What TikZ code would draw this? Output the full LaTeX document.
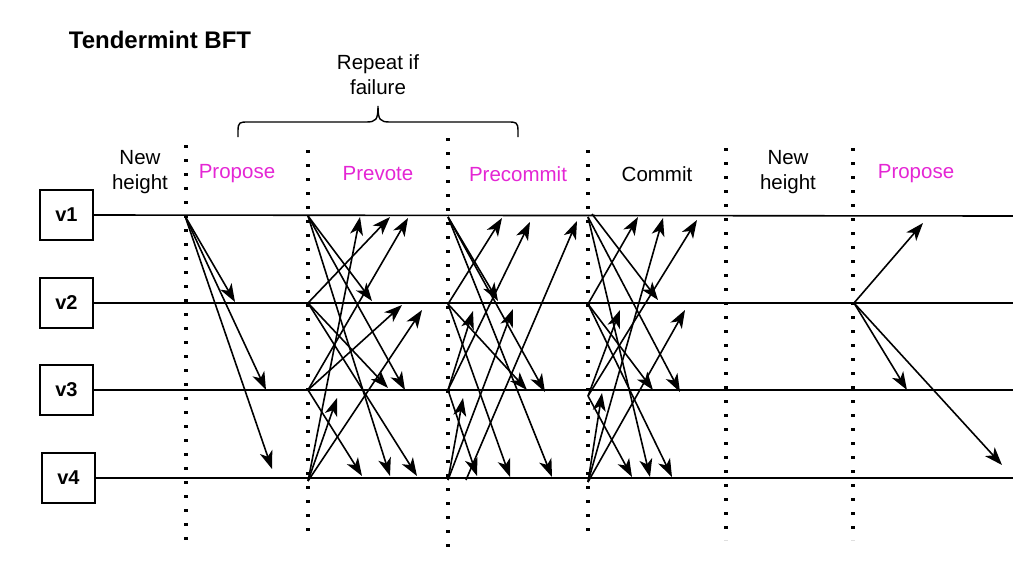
\documentclass[tikz,border=0pt]{standalone}
\usepackage{fontspec}
\setmainfont{Liberation Sans}
\usetikzlibrary{arrows.meta}
\definecolor{mag}{RGB}{228,38,212}
\begin{document}
\begin{tikzpicture}[x=1pt,y=-1pt,
  vbox/.style={draw,line width=1.5pt,minimum width=53pt,minimum height=50pt,inner sep=0pt,font=\fontsize{20}{22}\selectfont\bfseries},
  hline/.style={line width=1.6pt},
  msg/.style={line width=1.6pt,-{Stealth[length=18pt,width=13pt,inset=5pt]}},
  dotline/.style={line width=3.2pt,dash pattern=on 3.2pt off 10.8pt},
  lbl/.style={font=\fontsize{20.5}{25}\selectfont,align=center,inner sep=0pt},
  phase/.style={lbl,text=mag}]
\useasboundingbox (0,0) rectangle (1013,587);

% title
\node[font=\fontsize{24}{27}\selectfont\bfseries,inner sep=0pt] (title) at (160,40) {Tendermint BFT};
\node[lbl] (repeat) at (378,75) {Repeat if\\failure};

% brace
\coordinate (brL) at (238,137);
\coordinate (brR) at (518,137);
\coordinate (brT) at (378,106);
\draw[line width=1.4pt] (brL) -- (238,131) .. controls (238,122) and (240,122) .. (248,122) -- (366,122)
  .. controls (376,122) and (378,120) .. (brT)
  .. controls (378,120) and (380,122) .. (390,122) -- (508,122)
  .. controls (516,122) and (518,122) .. (518,131) -- (brR);

% validators
\node[vbox] (v1) at (66.5,215) {v1};
\node[vbox] (v2) at (66.5,303) {v2};
\node[vbox] (v3) at (66.5,390) {v3};
\node[vbox] (v4) at (68.5,478) {v4};
\coordinate (e1) at (1013,216);
\coordinate (e2) at (1013,303);
\coordinate (e3) at (1013,390);
\coordinate (e4) at (1013,478);
\draw[hline] (v1.east) -- (e1);
\draw[hline] (v2.east) -- (e2);
\draw[hline] (v3.east) -- (e3);
\draw[hline] (v4.east) -- (e4);

% dotted separators
\foreach \x/\ya/\yb [count=\k] in {186/145/540, 308/150/540, 448/138/548, 588/150/540, 726/148/540, 853/148/540}{
  \coordinate (dt\k) at (\x,\ya);
  \coordinate (db\k) at (\x,\yb);
  \draw[dotline] (dt\k) -- (db\k);
}

% phase labels
\node[lbl] (nh1) at (140,172) {New\\height};
\node[phase] (pr1) at (237,174) {Propose};
\node[phase] (pv) at (378,174) {Prevote};
\node[phase] (pc) at (518,174) {Precommit};
\node[lbl] (cm) at (657,174) {Commit};
\node[lbl] (nh2) at (788,172) {New\\height};
\node[phase] (pr2) at (916,174) {Propose};

% messages
\foreach \sx/\sy/\tx/\ty [count=\k] in {
  185/216/235/302, 185/216/266/390, 185/216/272/469,
  308/216/372/301, 308/216/405/390, 308/216/390/476,
  308/303/390/217, 308/303/388/388, 308/303/417/476,
  308/390/408/218, 308/390/402/305, 308/390/362/476,
  308/481/360/217, 308/481/422/310, 308/481/337/398,
  448/217/498/301, 448/217/545/392, 448/217/552/477,
  448/304/502/218, 448/304/527/390, 448/304/510/477,
  448/390/530/222, 448/390/473/311, 448/390/477/476,
  448/480/513/309, 448/480/463/398, 466/480/577/221,
  592/214/658/300, 588/217/680/392, 588/217/650/477,
  588/304/638/217, 588/304/653/390, 588/304/672/477,
  588/396/620/310, 588/396/697/220, 588/396/632/477,
  588/482/602/393, 588/482/663/218, 588/482/685/310,
  854/303/923/223, 854/303/907/390, 854/303/1002/465}{
  \coordinate (a\k) at (\sx,\sy);
  \coordinate (b\k) at (\tx,\ty);
  \draw[msg] (a\k) -- (b\k);
}
\end{tikzpicture}
\end{document}
